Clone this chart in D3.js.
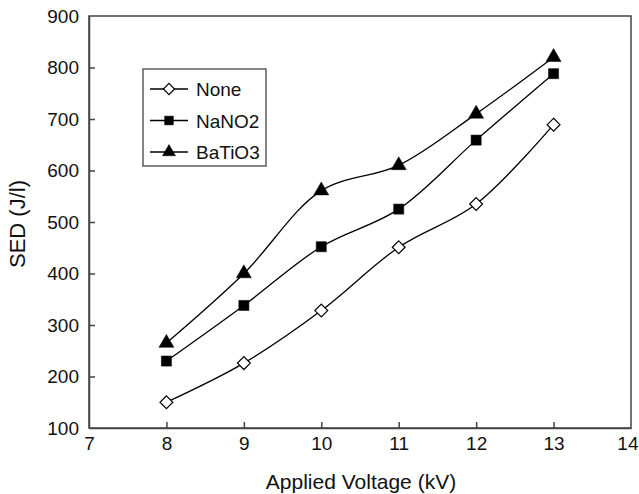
<!DOCTYPE html>
<html><head><meta charset="utf-8">
<script src="https://cdn.jsdelivr.net/npm/d3@7"></script>
<style>body{margin:0;background:#fff;}svg{display:block;font-family:"Liberation Sans",Arial,sans-serif;}</style>
</head><body>
<svg id="c" width="639" height="494"></svg>
<script>
const voltages = [8, 9, 10, 11, 12, 13];
const seriesNames = ["None", "NaNO2", "BaTiO3"];
const noneVals = [150, 226, 328, 451, 535, 689];
const nano2Vals = [230, 338, 452, 525, 659, 788];
const batio3Vals = [265, 400, 561, 610, 710, 820];
const xTicks = [7, 8, 9, 10, 11, 12, 13, 14];
const yTicks = [100, 200, 300, 400, 500, 600, 700, 800, 900];

const svg = d3.select("#c");
const L = 89, R = 631, T = 16, B = 428;
const x = d3.scaleLinear().domain([7, 14]).range([L, R]);
const y = d3.scaleLinear().domain([100, 900]).range([B, T]);
const axisColor = "#444";
const FONT = '"Liberation Sans",Arial,sans-serif';

svg.append("rect").attr("x", L).attr("y", T).attr("width", R - L).attr("height", B - T)
  .attr("fill", "none").attr("stroke", axisColor).attr("stroke-width", 1.5);

const xAxis = svg.append("g").attr("transform", `translate(0,${B})`)
  .call(d3.axisBottom(x).tickValues(xTicks).tickFormat(d3.format("d")).tickSizeInner(-6).tickSizeOuter(0).tickPadding(9));
const yAxis = svg.append("g").attr("transform", `translate(${L},0)`)
  .call(d3.axisLeft(y).tickValues(yTicks).tickFormat(d3.format("d")).tickSizeInner(-6).tickSizeOuter(0).tickPadding(10));
[xAxis, yAxis].forEach(g => {
  g.select(".domain").attr("stroke", axisColor).attr("stroke-width", 1.5);
  g.selectAll(".tick line").attr("stroke", axisColor).attr("stroke-width", 1.5);
  g.selectAll(".tick text").attr("font-size", 19).attr("fill", "#111").attr("font-family", FONT);
});
xAxis.selectAll(".tick line").filter(d => d === 7 || d === 14).remove();
yAxis.selectAll(".tick line").filter(d => d === 100 || d === 900).remove();
xAxis.selectAll(".tick text").filter(d => d === 14).attr("text-anchor", "end").attr("dx", 7);

svg.append("text").attr("x", 361).attr("y", 489).attr("text-anchor", "middle")
  .attr("font-size", 21).attr("fill", "#111").text("Applied Voltage (kV)");
svg.append("text").attr("transform", "translate(25,224) rotate(-90)").attr("text-anchor", "middle")
  .attr("font-size", 22).attr("fill", "#111").text("SED (J/l)");

const data = [noneVals, nano2Vals, batio3Vals];
const line = d3.line().x((d, i) => x(voltages[i])).y(d => y(d)).curve(d3.curveCatmullRom.alpha(0.5));

const symbols = [d3.symbolDiamond2, d3.symbolSquare2, d3.symbolTriangle2];
const sizes = [105, 130, 160];
const fills = ["#fff", "#000", "#000"];

data.forEach(vals => {
  svg.append("path").datum(vals).attr("d", line).attr("fill", "none")
    .attr("stroke", "#000").attr("stroke-width", 1.3);
});
data.forEach((vals, s) => {
  svg.append("g").selectAll("path").data(vals).join("path")
    .attr("transform", (d, i) => `translate(${x(voltages[i])},${y(d)})`)
    .attr("d", d3.symbol().type(symbols[s]).size(sizes[s]))
    .attr("fill", fills[s]).attr("stroke", "#000").attr("stroke-width", s === 0 ? 1.2 : 0.5);
});

const lg = svg.append("g");
lg.append("rect").attr("x", 143).attr("y", 69).attr("width", 123).attr("height", 97)
  .attr("fill", "#fff").attr("stroke", axisColor).attr("stroke-width", 1.3);
seriesNames.forEach((name, s) => {
  const yy = 89 + s * 31.5;
  lg.append("line").attr("x1", 150).attr("x2", 188).attr("y1", yy).attr("y2", yy)
    .attr("stroke", "#000").attr("stroke-width", 1.3);
  lg.append("path").attr("transform", `translate(169,${yy})`)
    .attr("d", d3.symbol().type(symbols[s]).size(sizes[s] * 0.75))
    .attr("fill", fills[s]).attr("stroke", "#000").attr("stroke-width", s === 0 ? 1.2 : 0.5);
  lg.append("text").attr("x", 196).attr("y", yy + 7).attr("font-size", 19).attr("fill", "#111").text(name);
});
</script>
</body></html>
